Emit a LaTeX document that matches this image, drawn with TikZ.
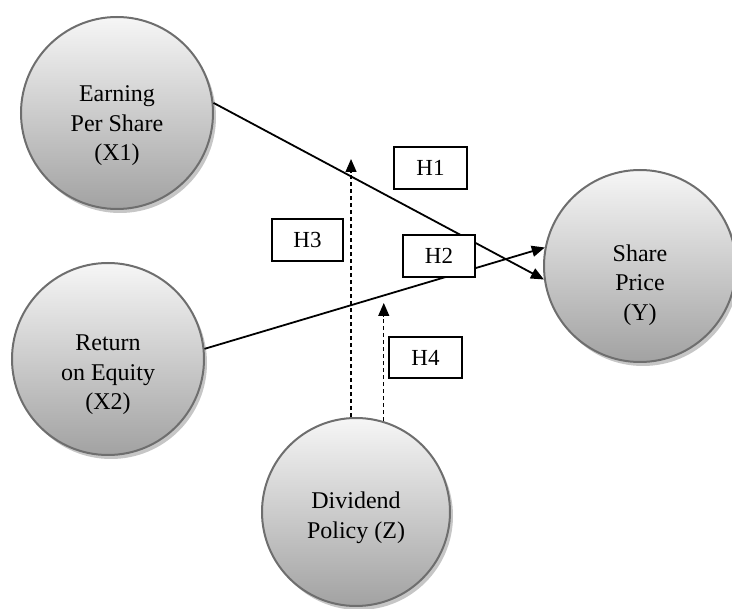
\documentclass[tikz,border=0pt]{standalone}
\usepackage{fontspec}
\setmainfont{Liberation Serif}
\usetikzlibrary{arrows.meta,shadows}
\definecolor{rim}{HTML}{6E6E6E}
\definecolor{ctop}{HTML}{F6F6F6}
\definecolor{cbot}{HTML}{A2A2A2}
\definecolor{cshadow}{HTML}{C6C6C6}
\begin{document}
\begin{tikzpicture}[x=1pt,y=-1pt,
  circ/.style={circle, draw=rim, line width=2pt, top color=ctop, bottom color=cbot,
    inner sep=0pt, minimum size=192pt,
    drop shadow={shadow xshift=3pt, shadow yshift=-4pt, fill=cshadow, opacity=1}},
  txt/.style={align=center, inner sep=0pt, font=\fontsize{24}{29.5}\selectfont},
  hbox/.style={draw, line width=2pt, fill=white, inner sep=0pt,
    minimum width=72pt, minimum height=42pt, font=\fontsize{23}{26}\selectfont},
  arr/.style={line width=1.8pt, -{Triangle[length=13pt,width=11pt]}},
  dsh/.style={line width=1.2pt, dash pattern=on 4pt off 3pt, -{Triangle[length=13pt,width=11pt]}}
]
\useasboundingbox (0,0) rectangle (732,609);
\clip (0,0) rectangle (732,609);
% circles
\node[circ] (X1) at (117,113) {};
\node[circ] (X2) at (108,359) {};
\node[circ] (Y) at (640,266) {};
\node[circ, minimum size=188pt] (Z) at (356,512) {};
\node[txt] (X1t) at ([yshift=-13pt]X1.center) {Earning\\Per Share\\(X1)};
\node[txt] (X2t) at ([yshift=-16pt]X2.center) {Return\\on Equity\\(X2)};
\node[txt] (Yt) at ([yshift=-19pt]Y.center) {Share\\Price\\(Y)};
\node[txt] (Zt) at ([yshift=-6pt]Z.center) {Dividend\\Policy (Z)};
% connectors
\draw[arr] (X1.6.5) -- (Y.188);
\draw[arr] (X2.6.5) -- (Y.169);
\coordinate (h3top) at (351,159);
\coordinate (h4top) at (383,303);
\draw[dsh] (Z.93) -- (Z.93 |- h3top);
\draw[dsh] (Z.73) -- (Z.73 |- h4top);
% hypothesis boxes
\node[hbox, minimum width=73pt] (H1) at (430.5,168) {H1};
\node[hbox] (H2) at (439,256) {H2};
\node[hbox, minimum width=71pt] (H3) at (307.5,240) {H3};
\node[hbox, minimum width=73pt, minimum height=41pt] (H4) at (425.5,357.5) {H4};
\end{tikzpicture}
\end{document}
